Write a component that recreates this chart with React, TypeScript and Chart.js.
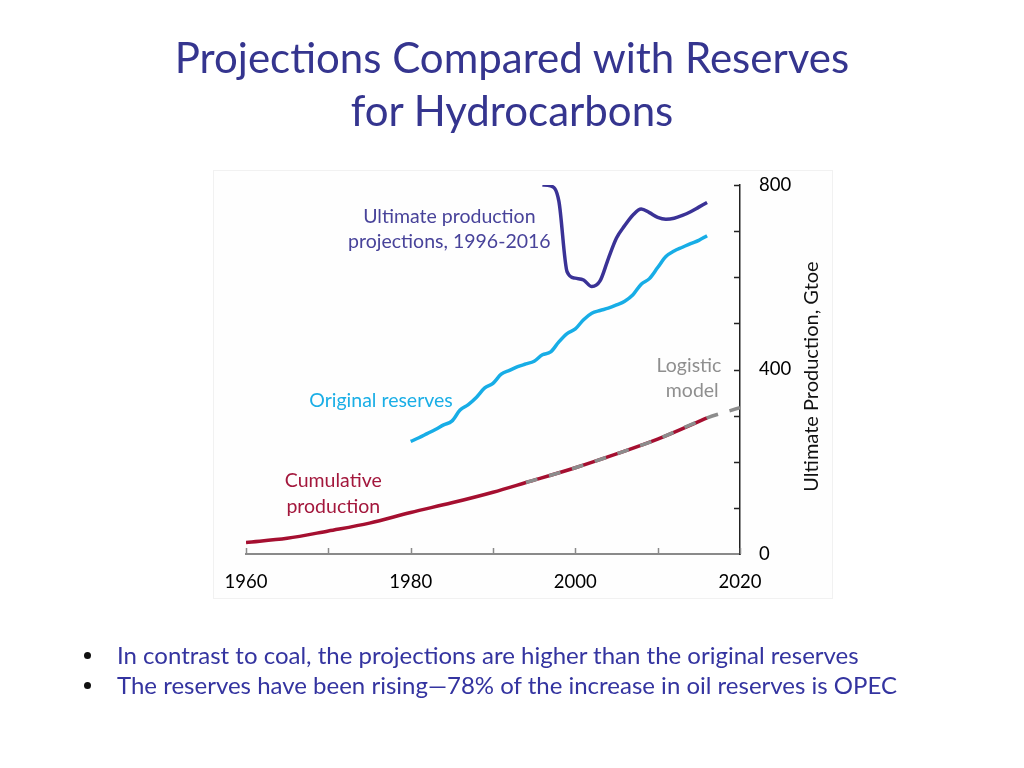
import React, { useEffect, useRef } from "react";
import { Chart, registerables } from "chart.js";

Chart.register(...registerables);

// ---- Data ----
const cumulativeYears = [1960, 1965, 1970, 1975, 1980, 1985, 1990, 1994, 2000, 2005, 2010, 2016];
const cumulativeValues = [25, 34, 50, 67, 90, 111, 134, 155, 187, 217, 249, 295];

const logisticYears = [1994, 2000, 2005, 2010, 2016, 2020];
const logisticValues = [155, 187, 217, 249, 295, 317];

const reserveYears = [
  1980, 1981, 1982, 1983, 1984, 1985, 1986, 1987, 1988, 1989, 1990, 1991, 1992,
  1993, 1994, 1995, 1996, 1997, 1998, 1999, 2000, 2001, 2002, 2003, 2004, 2005,
  2006, 2007, 2008, 2009, 2010, 2011, 2012, 2013, 2014, 2015, 2016,
];
const reserveValues = [
  244, 252, 261, 270, 280, 288, 312, 324, 340, 360, 370, 390, 398,
  406, 412, 418, 432, 438, 460, 478, 488, 508, 522, 528, 533, 540,
  548, 562, 585, 597, 621, 645, 657, 665, 673, 680, 690,
];

const projectionYears = [
  1996, 1997, 1998, 1999, 2000, 2001, 2002, 2003, 2004, 2005, 2006, 2007, 2008,
  2009, 2010, 2011, 2012, 2013, 2014, 2015, 2016,
];
const projectionValues = [
  800, 798, 765, 612, 598, 594, 580, 592, 640, 685, 712, 735, 748,
  740, 730, 726, 728, 734, 742, 752, 762,
];

const xTickValues = [1960, 1970, 1980, 1990, 2000, 2010, 2020];
const xLabelValues = [1960, 1980, 2000, 2020];
const yTickValues = [100, 200, 300, 400, 500, 600, 700, 800];
const yLabelValues = [0, 400, 800];

const titleLines = ["Projections Compared with Reserves", "for Hydrocarbons"];
const bullets = [
  "In contrast to coal, the projections are higher than the original reserves",
  "The reserves have been rising\u201478% of the increase in oil reserves is OPEC",
];
const yAxisTitle = "Ultimate Production, Gtoe";

// annotation text: [text, year, value, color]
const annotations: [string, number, number, string][] = [
  ["Ultimate production", 1984.7, 732, "#48439a"],
  ["projections, 1996-2016", 1984.7, 676, "#48439a"],
  ["Original reserves", 1976.4, 332, "#1aaee6"],
  ["Cumulative", 1970.6, 159, "#a3173c"],
  ["production", 1970.6, 102, "#a3173c"],
  ["Logistic", 2013.8, 408, "#8f8f8f"],
  ["model", 2014.2, 354, "#8f8f8f"],
];

const FONT = "Lato, 'Open Sans', sans-serif";

const toPoints = (xs: number[], ys: number[]) => xs.map((x, i) => ({ x, y: ys[i] }));

const overlayPlugin = {
  id: "overlay",
  afterDraw(chart: any) {
    const { ctx, chartArea, scales } = chart;
    const x = scales.x;
    const y = scales.y;
    ctx.save();
    // inward ticks on x axis
    ctx.strokeStyle = "#8a8a8a";
    ctx.lineWidth = 1.5;
    ctx.beginPath();
    xTickValues.forEach((v) => {
      const px = Math.round(x.getPixelForValue(v)) + 0.5;
      ctx.moveTo(px, chartArea.bottom);
      ctx.lineTo(px, chartArea.bottom - 6);
    });
    ctx.stroke();
    // inward ticks on right y axis
    ctx.strokeStyle = "#222";
    ctx.beginPath();
    yTickValues.forEach((v) => {
      const py = Math.round(y.getPixelForValue(v)) + 0.5;
      ctx.moveTo(chartArea.right, py);
      ctx.lineTo(chartArea.right - 6, py);
    });
    ctx.stroke();
    // y axis title
    ctx.fillStyle = "#111";
    ctx.font = `20px ${FONT}`;
    ctx.textAlign = "center";
    ctx.textBaseline = "middle";
    ctx.translate(chartArea.right + 72, (chartArea.top + chartArea.bottom) / 2 + 7);
    ctx.rotate(-Math.PI / 2);
    ctx.fillText(yAxisTitle, 0, 0);
    ctx.restore();
    // annotations
    ctx.save();
    ctx.font = `19.5px ${FONT}`;
    ctx.textAlign = "center";
    ctx.textBaseline = "middle";
    annotations.forEach(([t, yr, val, col]) => {
      ctx.fillStyle = col;
      ctx.fillText(t, x.getPixelForValue(yr), y.getPixelForValue(val));
    });
    ctx.restore();
  },
};

function ChartCanvas() {
  const ref = useRef<HTMLCanvasElement | null>(null);
  useEffect(() => {
    if (!ref.current) return;
    const chart = new Chart(ref.current, {
      type: "line",
      data: {
        datasets: [
          {
            label: "Logistic model",
            data: toPoints(logisticYears, logisticValues),
            borderColor: "#8c8c8c",
            borderWidth: 3.5,
            borderDash: [12, 12],
            order: 0,
          },
          {
            label: "Cumulative production",
            data: toPoints(cumulativeYears, cumulativeValues),
            borderColor: "#a50f30",
            borderWidth: 3.5,
            order: 1,
          },
          {
            label: "Original reserves",
            data: toPoints(reserveYears, reserveValues),
            borderColor: "#17ade6",
            borderWidth: 3.5,
            order: 2,
          },
          {
            label: "Ultimate production projections, 1996-2016",
            data: toPoints(projectionYears, projectionValues),
            borderColor: "#3a3296",
            borderWidth: 3.5,
            order: 3,
          },
        ],
      },
      options: {
        animation: false,
        responsive: false,
        maintainAspectRatio: false,
        elements: {
          point: { radius: 0 },
          line: { cubicInterpolationMode: "monotone", borderCapStyle: "butt" },
        },
        plugins: { legend: { display: false }, tooltip: { enabled: false } },
        layout: { padding: { left: 246, top: 185, right: 224, bottom: 174 } },
        scales: {
          x: {
            type: "linear",
            min: 1960,
            max: 2020,
            afterFit: (s: any) => {
              s.height = 40;
            },
            afterBuildTicks: (s: any) => {
              s.ticks = xLabelValues.map((v) => ({ value: v }));
            },
            ticks: {
              autoSkip: false,
              maxRotation: 0,
              color: "#000",
              padding: 17,
              font: { family: FONT, size: 18.5 },
              callback: (v: any) => String(v),
            },
            grid: { display: false, drawTicks: false },
            border: { display: true, color: "#8a8a8a", width: 2 },
          },
          y: {
            type: "linear",
            position: "right",
            min: 0,
            max: 800,
            afterFit: (s: any) => {
              s.width = 60;
            },
            afterBuildTicks: (s: any) => {
              s.ticks = yLabelValues.map((v) => ({ value: v }));
            },
            ticks: {
              color: "#000",
              padding: 19,
              font: { family: FONT, size: 18.5 },
              callback: (v: any) => String(v),
            },
            grid: { display: false, drawTicks: false },
            border: { display: true, color: "#222", width: 1.5 },
          },
        },
      },
      plugins: [overlayPlugin],
    } as any);
    return () => chart.destroy();
  }, []);
  return (
    <canvas
      ref={ref}
      width={1024}
      height={768}
      style={{ position: "absolute", left: 0, top: 0, width: 1024, height: 768 }}
    />
  );
}

export default function App() {
  return (
    <div
      style={{
        position: "fixed",
        left: 0,
        top: 0,
        width: 1024,
        height: 768,
        background: "#fff",
        overflow: "hidden",
        fontFamily: FONT,
      }}
    >
      <div
        style={{
          position: "absolute",
          left: 213,
          top: 170,
          width: 618,
          height: 427,
          border: "1px solid #f1f1f1",
          background: "#fefefe",
        }}
      />
      <ChartCanvas />
      <div
        style={{
          position: "absolute",
          left: 0,
          top: 31,
          width: 1024,
          textAlign: "center",
          color: "#35358f",
          fontSize: 42,
          lineHeight: "53px",
        }}
      >
        {titleLines.map((l, i) => (
          <div key={i}>{l}</div>
        ))}
      </div>
      <div style={{ position: "absolute", left: 0, top: 640, width: 1024 }}>
        {bullets.map((b, i) => (
          <div
            key={i}
            style={{ position: "relative", height: 30, lineHeight: "30px", fontSize: 24, color: "#3434a0" }}
          >
            <span
              style={{
                position: "absolute",
                left: 84,
                top: 12,
                width: 7,
                height: 7,
                borderRadius: "50%",
                background: "#111",
              }}
            />
            <span style={{ position: "absolute", left: 117, top: 0, whiteSpace: "nowrap" }}>{b}</span>
          </div>
        ))}
      </div>
    </div>
  );
}
